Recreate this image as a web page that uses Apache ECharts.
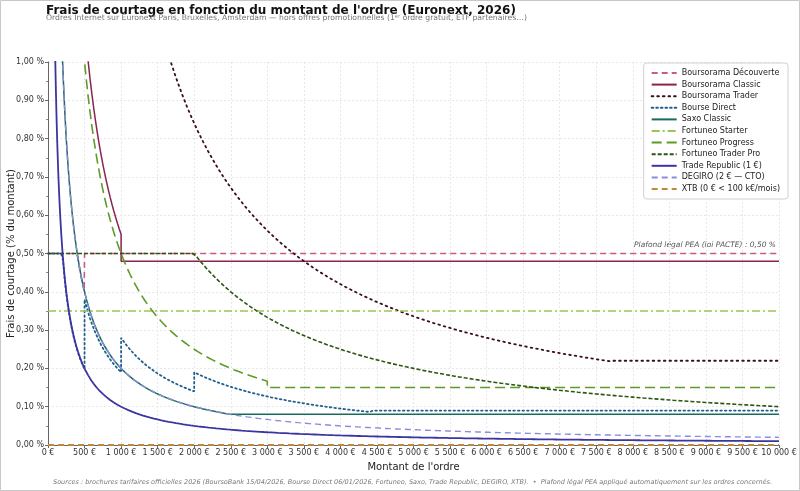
<!DOCTYPE html>
<html>
<head>
<meta charset="utf-8">
<style>
  html, body { margin: 0; padding: 0; background: #fff; }
  #chart { width: 800px; height: 491px; }
</style>
<script src="https://cdn.jsdelivr.net/npm/echarts@6/dist/echarts.min.js"></script>
</head>
<body>
<div id="chart"></div>
<script>
// grilles tarifaires (montant max de la tranche, frais fixe en €, taux en %)
var brokerNames = ['Boursorama Découverte', 'Boursorama Classic', 'Boursorama Trader', 'Bourse Direct',
  'Saxo Classic', 'Fortuneo Starter', 'Fortuneo Progress', 'Fortuneo Trader Pro',
  'Trade Republic (1 €)', 'DEGIRO (2 € — CTO)', 'XTB (0 € < 100 k€/mois)']
var tierUpTo = [[500, Infinity], [1000, Infinity], [7700, Infinity], [500, 1000, 2000, 4400, Infinity],
  [2500, Infinity], [Infinity], [3000, Infinity], [Infinity], [Infinity], [Infinity], [Infinity]]
var tierFixed = [[1.99, 0], [5.5, 0], [16.8, 0], [0.99, 1.9, 2.8, 3.8, 0],
  [2, 0], [0], [5, 0], [10], [1], [2], [0]]
var tierPct = [[0, 0.6], [0, 0.48], [0, 0.22], [0, 0, 0, 0, 0.09],
  [0, 0.08], [0.35], [0, 0.15], [0], [0], [0], [0]]
var peaCap = [true, false, false, true, false, false, false, true, false, false, false]
var PEA_CAP = 0.5
var xMax = 10000

var colors = ['#c85a86', '#8a2350', '#3a0d22', '#1f5f8f', '#1a6b5a', '#9cc35a',
  '#5d9a26', '#2d5512', '#3c35a0', '#8c8cd8', '#c0883a']
var dashes = [[6, 4], 'solid', [1.6, 4], [1.6, 3], 'solid', [8, 3, 2, 3],
  [10, 5], [4, 2], 'solid', [6, 4], [6, 4]]
var widths = [1.6, 1.5, 1.8, 1.8, 1.5, 1.6, 1.6, 1.6, 1.8, 1.4, 1.8]

// grille d'échantillonnage des montants
var amounts = []
for (var a = 5; a < 500; a += 5) amounts.push(a)
for (var a = 500; a <= xMax; a += 25) amounts.push(a)

function rate(b, t, x) {
  var f = tierFixed[b][t], p = tierPct[b][t], r
  if (f === 0) r = p
  else if (x === 0) r = Infinity
  else r = f / x * 100 + p
  if (peaCap[b]) r = Math.min(r, PEA_CAP)
  return isFinite(r) ? r : null
}

function buildData(b) {
  var pts = [], lo = 0
  for (var t = 0; t < tierUpTo[b].length; t++) {
    var hi = Math.min(tierUpTo[b][t], xMax)
    var v0 = rate(b, t, lo)
    if (v0 !== null) pts.push([lo, v0])
    amounts.forEach(function (x) {
      if (x > lo && x < hi) pts.push([x, rate(b, t, x)])
    })
    pts.push([hi, rate(b, t, hi)])
    lo = hi
    if (hi >= xMax) break
  }
  return pts
}

function fmtEuro(v) {
  return String(v).replace(/\B(?=(\d{3})+(?!\d))/g, ' ') + ' €'
}

var chart = echarts.init(document.getElementById('chart'))

var series = brokerNames.map(function (name, i) {
  var dotted = dashes[i] instanceof Array && dashes[i][0] < 2
  return {
    name: name,
    type: 'line',
    data: buildData(i),
    showSymbol: false,
    symbol: 'none',
    clip: true,
    animation: false,
    lineStyle: { color: colors[i], width: widths[i], type: dashes[i], cap: dotted ? 'round' : 'butt' },
    itemStyle: { color: colors[i] },
    emphasis: { disabled: true }
  }
})

chart.setOption({
  backgroundColor: '#fff',
  textStyle: { fontFamily: 'DejaVu Sans' },
  title: [{
    text: "Frais de courtage en fonction du montant de l'ordre (Euronext, 2026)",
    left: 41, top: 0,
    textStyle: { fontSize: 12, fontWeight: 'bold', color: '#111' }
  }, {
    text: 'Ordres Internet sur Euronext Paris, Bruxelles, Amsterdam — hors offres promotionnelles (1ᵉʳ ordre gratuit, ETF partenaires…)',
    left: 41, top: 9.5,
    textStyle: { fontSize: 7.7, fontWeight: 'normal', color: '#777' }
  }],
  grid: { left: 48, right: 21, top: 62, bottom: 46, containLabel: false, outerBoundsMode: 'none' },
  legend: {
    orient: 'vertical',
    right: 12, top: 63,
    padding: [6, 8, 6, 7],
    itemGap: 3.6,
    itemWidth: 25,
    itemHeight: 8,
    backgroundColor: 'rgba(255,255,255,0.9)',
    borderColor: '#d0d0d0',
    borderWidth: 1,
    borderRadius: 3,
    itemStyle: { opacity: 0 },
    textStyle: { fontSize: 8, color: '#222' },
    data: brokerNames
  },
  xAxis: {
    type: 'value',
    min: 0, max: xMax, interval: 500,
    name: "Montant de l'ordre",
    nameLocation: 'middle',
    nameGap: 17,
    nameMoveOverlap: false,
    nameTextStyle: { fontSize: 10, color: '#222' },
    axisLine: { lineStyle: { color: '#666' } },
    axisTick: { length: 3, lineStyle: { color: '#666' } },
    axisLabel: { fontSize: 8, color: '#333', margin: 4, formatter: fmtEuro },
    splitLine: { lineStyle: { color: '#e8e8e8', type: [2, 2] } }
  },
  yAxis: {
    type: 'value',
    min: 0, max: 1, interval: 0.1,
    name: 'Frais de courtage (% du montant)',
    nameLocation: 'middle',
    nameGap: 32,
    nameMoveOverlap: false,
    nameTextStyle: { fontSize: 10, color: '#222' },
    axisLine: { show: true, lineStyle: { color: '#666' } },
    axisTick: { show: true, length: 3, lineStyle: { color: '#666' } },
    minorTick: { show: true, splitNumber: 2, length: 2, lineStyle: { color: '#888' } },
    axisLabel: { fontSize: 8, color: '#333', margin: 4, formatter: function (v) { return v.toFixed(2).replace('.', ',') + ' %' } },
    splitLine: { lineStyle: { color: '#e8e8e8', type: [2, 2] } }
  },
  series: series,
  graphic: [{
    type: 'rect',
    shape: { x: 0.5, y: 0.5, width: 799, height: 490 },
    style: { fill: 'none', stroke: '#c8c8c8', lineWidth: 1 },
    silent: true
  }, {
    type: 'text',
    right: 24, top: 241,
    style: { text: 'Plafond légal PEA (loi PACTE) : 0,50 %', fontSize: 7.5, fontStyle: 'italic', fill: '#555', fontFamily: 'DejaVu Sans' }
  }, {
    type: 'text',
    left: 53, top: 479,
    style: {
      text: 'Sources : brochures tarifaires officielles 2026 (BoursoBank 15/04/2026, Bourse Direct 06/01/2026, Fortuneo, Saxo, Trade Republic, DEGIRO, XTB).  •  Plafond légal PEA appliqué automatiquement sur les ordres concernés.',
      fontSize: 6.5, fontStyle: 'italic', fill: '#777', fontFamily: 'DejaVu Sans'
    }
  }]
})
</script>
</body>
</html>
